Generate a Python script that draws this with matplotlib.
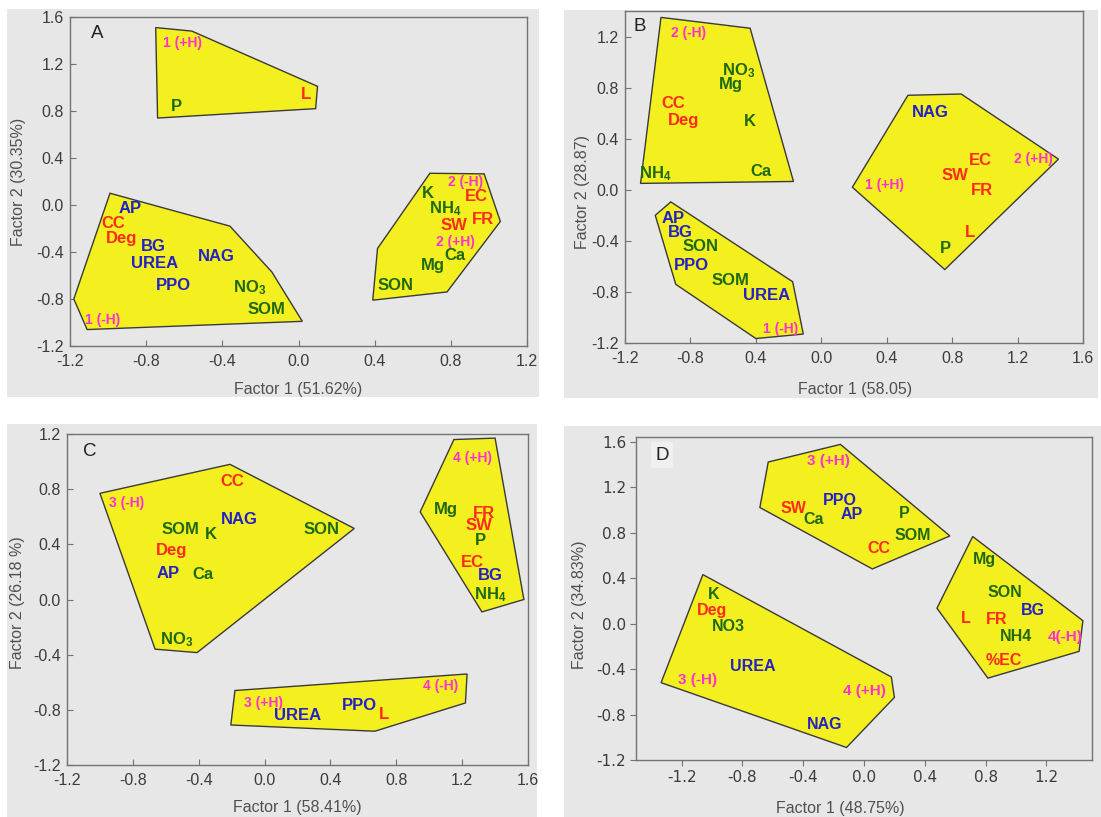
import matplotlib
matplotlib.use('Agg')
import matplotlib.pyplot as plt
from matplotlib.patches import Polygon, Rectangle

plt.rcParams['font.family'] = ['Liberation Sans', 'DejaVu Sans']
plt.rcParams['mathtext.default'] = 'regular'

# ---------------- data ----------------
# Panel A
A_labels = ['1 (+H)', 'P', 'L',
            'AP', 'CC', 'Deg', 'BG', 'UREA', 'NAG', 'PPO', 'NO$_3$', 'SOM', '1 (-H)',
            '2 (-H)', 'K', 'EC', 'NH$_4$', 'FR', 'SW', '2 (+H)', 'Ca', 'Mg', 'SON']
A_f1 = [-0.61, -0.64, 0.04,
        -0.885, -0.973, -0.927, -0.765, -0.758, -0.430, -0.656, -0.258, -0.168, -1.029,
        0.879, 0.680, 0.935, 0.769, 0.971, 0.818, 0.824, 0.824, 0.704, 0.511]
A_f2 = [1.38, 0.84, 0.94,
        -0.032, -0.155, -0.289, -0.354, -0.494, -0.440, -0.688, -0.702, -0.887, -0.981,
        0.195, 0.101, 0.076, -0.032, -0.124, -0.175, -0.317, -0.431, -0.517, -0.682]
A_hull_1 = [(-0.75, 1.51), (-0.56, 1.48), (0.10, 1.01), (0.09, 0.82), (-0.74, 0.74)]
A_hull_2 = [(-0.99, 0.10), (-0.36, -0.18), (-0.14, -0.57), (0.02, -0.99), (-1.11, -1.06), (-1.18, -0.80)]
A_hull_3 = [(0.69, 0.27), (0.975, 0.265), (1.06, -0.14), (0.78, -0.74), (0.39, -0.81), (0.415, -0.37)]
A_xticks = [-1.2, -0.8, -0.4, 0.0, 0.4, 0.8, 1.2]
A_xticklabels = ['-1.2', '-0.8', '-0.4', '0.0', '0.4', '0.8', '1.2']
A_yticks = [-1.2, -0.8, -0.4, 0.0, 0.4, 0.8, 1.2, 1.6]
A_yticklabels = ['-1.2', '-0.8', '-0.4', '0.0', '0.4', '0.8', '1.2', '1.6']

# Panel B
B_labels = ['2 (-H)', 'NO$_3$', 'Mg', 'CC', 'Deg', 'K', 'Ca', 'NH$_4$',
            'AP', 'BG', 'SON', 'PPO', 'SOM', 'UREA', '1 (-H)',
            'NAG', '2 (+H)', 'EC', 'SW', '1 (+H)', 'FR', 'L', 'P']
B_f1 = [-0.81, -0.504, -0.553, -0.906, -0.842, -0.435, -0.366, -1.014,
        -0.906, -0.859, -0.739, -0.793, -0.557, -0.332, -0.246,
        0.664, 1.296, 0.973, 0.818, 0.386, 0.983, 0.911, 0.758]
B_f2 = [1.226, 0.931, 0.821, 0.672, 0.541, 0.533, 0.141, 0.123,
        -0.225, -0.335, -0.447, -0.596, -0.708, -0.826, -1.088,
        0.604, 0.238, 0.233, 0.115, 0.037, -0.003, -0.337, -0.460]
B_hull_1 = [(-0.98, 1.35), (-0.435, 1.265), (-0.17, 0.065), (-1.105, 0.05)]
B_hull_2 = [(-0.92, -0.095), (-0.175, -0.72), (-0.11, -1.13), (-0.40, -1.165), (-0.89, -0.74), (-1.015, -0.20)]
B_hull_3 = [(0.53, 0.74), (0.855, 0.75), (1.45, 0.24), (0.755, -0.625), (0.19, 0.02)]
B_xticks = [-1.2, -0.8, -0.4, 0.0, 0.4, 0.8, 1.2, 1.6]
B_xticklabels = ['-1.2', '-0.8', '0.4', '0.0', '0.4', '0.8', '1.2', '1.6']
B_yticks = [-1.2, -0.8, -0.4, 0.0, 0.4, 0.8, 1.2]
B_yticklabels = ['-1.2', '-0.8', '-0.4', '0.0', '0.4', '0.8', '1.2']

# Panel C
C_labels = ['CC', '3 (-H)', 'NAG', 'SOM', 'K', 'SON', 'Deg', 'AP', 'Ca', 'NO$_3$',
            '4 (+H)', 'Mg', 'FR', 'SW', 'P', 'EC', 'BG', 'NH$_4$',
            '4 (-H)', '3 (+H)', 'PPO', 'UREA', 'L']
C_f1 = [-0.199, -0.836, -0.154, -0.510, -0.326, 0.347, -0.564, -0.585, -0.375, -0.536,
        1.260, 1.103, 1.335, 1.303, 1.313, 1.264, 1.371, 1.371,
        1.067, -0.004, 0.578, 0.199, 0.724]
C_f2 = [0.854, 0.702, 0.581, 0.509, 0.468, 0.509, 0.352, 0.190, 0.178, -0.293,
        1.028, 0.654, 0.625, 0.533, 0.431, 0.267, 0.171, 0.038,
        -0.627, -0.753, -0.765, -0.844, -0.837]
C_hull_1 = [(-1.0, 0.77), (-0.21, 0.98), (0.545, 0.515), (-0.41, -0.385), (-0.665, -0.36)]
C_hull_2 = [(1.15, 1.16), (1.40, 1.17), (1.575, 0.0), (1.32, -0.09), (0.945, 0.635)]
C_hull_3 = [(-0.18, -0.66), (1.23, -0.54), (1.22, -0.75), (0.67, -0.955), (-0.205, -0.91)]
C_xticks = [-1.2, -0.8, -0.4, 0.0, 0.4, 0.8, 1.2, 1.6]
C_xticklabels = ['-1.2', '-0.8', '-0.4', '0.0', '0.4', '0.8', '1.2', '1.6']
C_yticks = [-1.2, -0.8, -0.4, 0.0, 0.4, 0.8, 1.2]
C_yticklabels = ['-1.2', '-0.8', '-0.4', '0.0', '0.4', '0.8', '1.2']

# Panel D
D_labels = ['3 (+H)', 'PPO', 'SW', 'AP', 'P', 'Ca', 'SOM', 'CC',
            'Mg', 'SON', 'BG', 'L', 'FR', 'NH4', '4(-H)', '%EC',
            'K', 'Deg', 'NO3', 'UREA', '3 (-H)', '4 (+H)', 'NAG']
D_f1 = [-0.237, -0.161, -0.464, -0.079, 0.262, -0.330, 0.320, 0.099,
        0.795, 0.930, 1.109, 0.668, 0.872, 1.000, 1.322, 0.918,
        -0.987, -1.003, -0.894, -0.729, -1.096, 0.002, -0.260]
D_f2 = [1.433, 1.081, 1.008, 0.955, 0.964, 0.911, 0.770, 0.662,
        0.559, 0.272, 0.113, 0.046, 0.031, -0.110, -0.121, -0.327,
        0.257, 0.113, -0.028, -0.374, -0.497, -0.594, -0.887]
D_hull_1 = [(-0.63, 1.42), (-0.155, 1.575), (0.565, 0.77), (0.055, 0.48), (-0.685, 1.02)]
D_hull_2 = [(0.715, 0.765), (1.44, 0.025), (1.415, -0.245), (0.815, -0.48), (0.48, 0.135)]
D_hull_3 = [(-1.06, 0.43), (0.18, -0.47), (0.20, -0.65), (-0.115, -1.09), (-1.335, -0.52)]
D_xticks = [-1.2, -0.8, -0.4, 0.0, 0.4, 0.8, 1.2]
D_xticklabels = ['-1.2', '-0.8', '-0.4', '0.0', '0.4', '0.8', '1.2']
D_yticks = [-1.2, -0.8, -0.4, 0.0, 0.4, 0.8, 1.2, 1.6]
D_yticklabels = ['-1.2', '-0.8', '-0.4', '0.0', '0.4', '0.8', '1.2', '1.6']

# variable groups (determine colour)
ENZYMES = {'AP', 'BG', 'UREA', 'NAG', 'PPO'}
PHYSICAL = {'CC', 'Deg', 'L', 'SW', 'FR', 'EC', '%EC'}

# ---------------- style ----------------
W, H = 1101, 817
GRAY = '#e7e7e7'
YELLOW = '#f4ef1f'
RED = '#ff2a1a'
BLUE = '#2222c8'
GREEN = '#1e6a12'
MAGENTA = '#ff30d2'
SPINE = '#737373'


def colour(lab):
    if '(' in lab:
        return MAGENTA
    if lab in ENZYMES:
        return BLUE
    if lab in PHYSICAL:
        return RED
    return GREEN


fig = plt.figure(figsize=(W / 100, H / 100), dpi=100, facecolor='white')

# grey panel backgrounds (pixel boxes: x0, y0, x1, y1)
for (x0, y0, x1, y1) in [(7, 9, 539, 397), (564, 10, 1098, 398),
                         (7, 424, 537, 817), (564, 426, 1101, 817)]:
    fig.patches.append(Rectangle((x0 / W, 1 - y1 / H), (x1 - x0) / W, (y1 - y0) / H,
                                 transform=fig.transFigure, facecolor=GRAY,
                                 edgecolor='none', zorder=-10))

panels = [
    dict(box=(70, 17, 527, 346), labels=A_labels, f1=A_f1, f2=A_f2,
         hulls=[A_hull_1, A_hull_2, A_hull_3], xlim=(-1.2, 1.2), ylim=(-1.2, 1.6),
         xt=A_xticks, xtl=A_xticklabels, yt=A_yticks, ytl=A_yticklabels,
         xlabel='Factor 1 (51.62%)', ylabel='Factor 2 (30.35%)', letter='A',
         letter_pos=(0.059, 0.951), xlab_pos=(0.5, -0.131), ylab_pos=(-0.112, 0.5),
         msize=10, lsize=12, tickdir='in', tickfont='Liberation Sans', ticksize=11.5,
         xpad=6, ypad=4.5),
    dict(box=(625, 11, 1083, 343), labels=B_labels, f1=B_f1, f2=B_f2,
         hulls=[B_hull_1, B_hull_2, B_hull_3], xlim=(-1.2, 1.6), ylim=(-1.2, 1.4),
         xt=B_xticks, xtl=B_xticklabels, yt=B_yticks, ytl=B_yticklabels,
         xlabel='Factor 1 (58.05)', ylabel='Factor 2 (28.87)', letter='B',
         letter_pos=(0.033, 0.952), xlab_pos=(0.502, -0.139), ylab_pos=(-0.092, 0.455),
         msize=10, lsize=12, tickdir='in', tickfont='Liberation Sans', ticksize=11.5,
         xpad=6, ypad=4.5),
    dict(box=(67, 434, 528, 765), labels=C_labels, f1=C_f1, f2=C_f2,
         hulls=[C_hull_1, C_hull_2, C_hull_3], xlim=(-1.2, 1.6), ylim=(-1.2, 1.2),
         xt=C_xticks, xtl=C_xticklabels, yt=C_yticks, ytl=C_yticklabels,
         xlabel='Factor 1 (58.41%)', ylabel='Factor 2 (26.18 %)', letter='C',
         letter_pos=(0.05, 0.946), xlab_pos=(0.5, -0.127), ylab_pos=(-0.107, 0.49),
         msize=10, lsize=12, tickdir='in', tickfont='Liberation Sans', ticksize=11.5,
         xpad=6, ypad=4.5),
    dict(box=(636, 437, 1092, 760), labels=D_labels, f1=D_f1, f2=D_f2,
         hulls=[D_hull_1, D_hull_2, D_hull_3], xlim=(-1.5, 1.5), ylim=(-1.2, 1.64),
         xt=D_xticks, xtl=D_xticklabels, yt=D_yticks, ytl=D_yticklabels,
         xlabel='Factor 1 (48.75%)', ylabel='Factor 2 (34.83%)', letter='D',
         letter_pos=(0.057, 0.944), xlab_pos=(0.447, -0.149), ylab_pos=(-0.123, 0.48),
         msize=11, lsize=11.5, tickdir='out', tickfont='DejaVu Sans', ticksize=11,
         xpad=3, ypad=3),
]

for p in panels:
    l, t, r, b = p['box']
    ax = fig.add_axes([l / W, 1 - b / H, (r - l) / W, (b - t) / H])
    ax.set_facecolor(GRAY)
    for s in ax.spines.values():
        s.set_color(SPINE)
        s.set_linewidth(1.0)
    ax.set_xlim(*p['xlim'])
    ax.set_ylim(*p['ylim'])
    ax.set_xticks(p['xt'])
    ax.set_xticklabels(p['xtl'])
    ax.set_yticks(p['yt'])
    ax.set_yticklabels(p['ytl'])
    ax.tick_params(direction=p['tickdir'], length=4, width=0.8, color=SPINE,
                   labelcolor='#3c3c3c', labelsize=p['ticksize'])
    ax.tick_params(axis='x', pad=p['xpad'])
    ax.tick_params(axis='y', pad=p['ypad'])
    for tl in ax.get_xticklabels() + ax.get_yticklabels():
        tl.set_fontfamily(p['tickfont'])

    for hull in p['hulls']:
        ax.add_patch(Polygon(hull, closed=True, facecolor=YELLOW,
                             edgecolor='#3a3a3a', linewidth=1.0, zorder=2))

    for lab, x, y in zip(p['labels'], p['f1'], p['f2']):
        c = colour(lab)
        size = p['msize'] if c == MAGENTA else p['lsize']
        ax.text(x, y, lab, color=c, fontsize=size, fontweight='bold',
                ha='center', va='center', zorder=3)

    kw = {}
    if p['letter'] == 'D':
        kw['bbox'] = dict(facecolor='#f0f0f0', edgecolor='none', pad=3)
    ax.text(*p['letter_pos'], p['letter'], transform=ax.transAxes, fontsize=13.5,
            color='#222222', ha='center', va='center', zorder=4, **kw)

    ax.set_xlabel(p['xlabel'], fontsize=11.5, color='#505050')
    ax.set_ylabel(p['ylabel'], fontsize=11.5, color='#505050')
    ax.xaxis.label.set_va('center')
    ax.yaxis.label.set_va('center')
    ax.xaxis.set_label_coords(*p['xlab_pos'])
    ax.yaxis.set_label_coords(*p['ylab_pos'])

fig.savefig('out.png', dpi=100, facecolor='white')
